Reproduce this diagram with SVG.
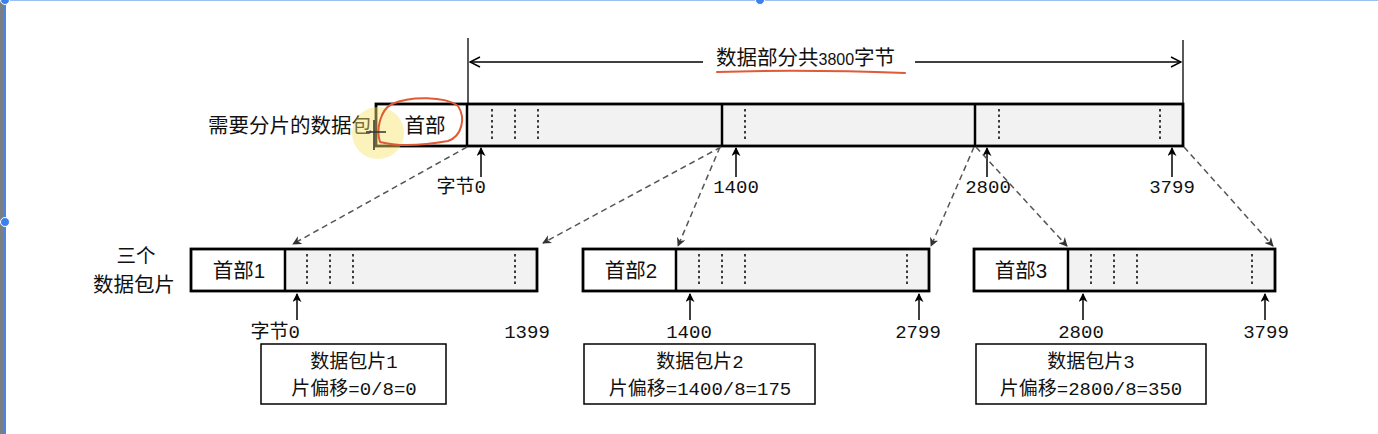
<svg xmlns="http://www.w3.org/2000/svg" width="1378" height="434" viewBox="0 0 1378 434">
<style>
.cjk{font-family:"Noto Sans CJK SC","Noto Sans",sans-serif;font-size:20.5px;fill:#111}
.mono{font-family:"Liberation Mono","Noto Sans CJK SC",monospace;font-size:19px;fill:#111}
.box{fill:#fff;stroke:#000;stroke-width:2.8}
.data{fill:#f2f2f2;stroke:none}
.div{stroke:#000;stroke-width:2.5}
.dot{stroke:#000;stroke-width:1.5;stroke-dasharray:2.5 3}
.info{fill:#fff;stroke:#000;stroke-width:1.5}
.up{stroke:#000;stroke-width:1.5;fill:none;marker-end:url(#ah)}
.dash{stroke:#555;stroke-width:1.5;stroke-dasharray:6 4;fill:none;marker-end:url(#dh)}
.dim{stroke:#000;stroke-width:1.3;fill:none}
.red{stroke:#e05a35;stroke-width:2;fill:none;stroke-linecap:round}
</style>
<defs>
<marker id="ah" viewBox="0 0 10 10" refX="9" refY="5" markerWidth="9" markerHeight="9" markerUnits="userSpaceOnUse" orient="auto">
<path d="M0,0 L10,5 L0,10 L3,5 z" fill="#000"/>
</marker>
<marker id="dh" viewBox="0 0 10 10" refX="9" refY="5" markerWidth="9" markerHeight="9" markerUnits="userSpaceOnUse" orient="auto">
<path d="M0,0 L10,5 L0,10 L3,5 z" fill="#333"/>
</marker>
<marker id="open" viewBox="0 0 12 12" refX="11" refY="6" markerWidth="12" markerHeight="12" markerUnits="userSpaceOnUse" orient="auto">
<path d="M1,1 L11,6 L1,11" fill="none" stroke="#000" stroke-width="1.5"/>
</marker>
</defs>
<rect width="1378" height="434" fill="#fff"/>
<!-- window frame -->
<rect x="0" y="0" width="3" height="434" fill="#7a7f86"/>
<rect x="3" y="0" width="3" height="434" fill="#4a86e0"/>
<line x1="6" y1="0.5" x2="1378" y2="0.5" stroke="#9cc0ef" stroke-width="1.2"/>
<circle cx="5" cy="0" r="4.5" fill="#3b82f0" stroke="#fff" stroke-width="1"/>
<circle cx="5" cy="222" r="4.5" fill="#3b82f0" stroke="#fff" stroke-width="1"/>
<circle cx="760" cy="0" r="4.5" fill="#3b82f0" stroke="#fff" stroke-width="1"/>

<!-- dimension -->
<g id="dimension">
<line class="dim" x1="468" y1="38" x2="468" y2="104"/>
<line class="dim" x1="1183" y1="40" x2="1183" y2="104"/>
<line class="dim" x1="703" y1="62" x2="470" y2="62" marker-end="url(#open)"/>
<line class="dim" x1="915" y1="62" x2="1181" y2="62" marker-end="url(#open)"/>
<text class="cjk" x="716" y="65">数据部分共<tspan style="font-family:'Liberation Sans',sans-serif;font-size:16px">3800</tspan>字节</text>
</g>

<!-- original packet -->
<g id="packet">
<text class="cjk" x="372" y="133" text-anchor="end">需要分片的数据包</text>
<rect class="data" x="467" y="104" width="716" height="42"/>
<rect x="376" y="104" width="807" height="42" fill="none" stroke="#000" stroke-width="2.8"/>
<line class="div" x1="467" y1="104" x2="467" y2="146"/>
<line class="div" x1="722" y1="104" x2="722" y2="146"/>
<line class="div" x1="975" y1="104" x2="975" y2="146"/>
<line class="dot" x1="492" y1="109" x2="492" y2="142"/>
<line class="dot" x1="515" y1="109" x2="515" y2="142"/>
<line class="dot" x1="538" y1="109" x2="538" y2="142"/>
<line class="dot" x1="745" y1="109" x2="745" y2="142"/>
<line class="dot" x1="999" y1="109" x2="999" y2="142"/>
<line class="dot" x1="1160" y1="109" x2="1160" y2="142"/>
<text class="cjk" x="425" y="133" text-anchor="middle">首部</text>
<line class="up" x1="481" y1="177" x2="481" y2="148"/>
<line class="up" x1="736" y1="177" x2="736" y2="148"/>
<line class="up" x1="987" y1="177" x2="987" y2="148"/>
<line class="up" x1="1172" y1="177" x2="1172" y2="148"/>
<text class="mono" x="486" y="193" text-anchor="end">字节0</text>
<text class="mono" x="736" y="193" text-anchor="middle">1400</text>
<text class="mono" x="988" y="193" text-anchor="middle">2800</text>
<text class="mono" x="1172" y="193" text-anchor="middle">3799</text>
</g>

<!-- annotations -->
<g id="annotations">
<circle cx="378" cy="133" r="26" fill="#f7e36a" opacity="0.45"/>
<path class="red" d="M717,72 C780,70 850,71 905,73"/>
<path class="red" d="M392,104 C410,96 445,96 458,106 C466,118 462,136 448,141 C420,146 395,146 380,142 C376,130 380,110 392,104 Z"/>
<path d="M374,120 V150 M366,132 H386" stroke="#333" stroke-width="1.5"/>
</g>

<!-- fragment labels -->
<g id="fraglabel">
<text class="cjk" x="136" y="263" text-anchor="middle" style="font-size:19.5px">三个</text>
<text class="cjk" x="134" y="292" text-anchor="middle">数据包片</text>
</g>

<!-- fragment 1 -->
<g id="frag1">
<rect class="data" x="285" y="249" width="252" height="42"/>
<rect x="191" y="249" width="346" height="42" fill="none" stroke="#000" stroke-width="2.8"/>
<line class="div" x1="285" y1="249" x2="285" y2="291"/>
<line class="dot" x1="307" y1="254" x2="307" y2="287"/>
<line class="dot" x1="330" y1="254" x2="330" y2="287"/>
<line class="dot" x1="353" y1="254" x2="353" y2="287"/>
<line class="dot" x1="515" y1="254" x2="515" y2="287"/>
<text class="cjk" x="239" y="278" text-anchor="middle">首部<tspan style="font-family:'Liberation Sans',sans-serif">1</tspan></text>
<line class="up" x1="297" y1="320" x2="297" y2="294"/>
<text class="mono" x="300" y="338" text-anchor="end">字节0</text>
<text class="mono" x="527" y="338" text-anchor="middle">1399</text>
<rect class="info" x="261" y="344" width="185" height="60"/>
<text class="mono" x="354" y="368" text-anchor="middle">数据包片1</text>
<text class="mono" x="354" y="395" text-anchor="middle">片偏移=0/8=0</text>
</g>

<!-- fragment 2 -->
<g id="frag2">
<rect class="data" x="676" y="249" width="253" height="42"/>
<rect x="583" y="249" width="346" height="42" fill="none" stroke="#000" stroke-width="2.8"/>
<line class="div" x1="676" y1="249" x2="676" y2="291"/>
<line class="dot" x1="699" y1="254" x2="699" y2="287"/>
<line class="dot" x1="722" y1="254" x2="722" y2="287"/>
<line class="dot" x1="745" y1="254" x2="745" y2="287"/>
<line class="dot" x1="907" y1="254" x2="907" y2="287"/>
<text class="cjk" x="631" y="278" text-anchor="middle">首部<tspan style="font-family:'Liberation Sans',sans-serif">2</tspan></text>
<line class="up" x1="690" y1="320" x2="690" y2="294"/>
<line class="up" x1="919" y1="320" x2="919" y2="294"/>
<text class="mono" x="689" y="338" text-anchor="middle">1400</text>
<text class="mono" x="918" y="338" text-anchor="middle">2799</text>
<rect class="info" x="584" y="344" width="231" height="60"/>
<text class="mono" x="700" y="368" text-anchor="middle">数据包片2</text>
<text class="mono" x="700" y="395" text-anchor="middle">片偏移=1400/8=175</text>
</g>

<!-- fragment 3 -->
<g id="frag3">
<rect class="data" x="1068" y="249" width="207" height="42"/>
<rect x="974" y="249" width="301" height="42" fill="none" stroke="#000" stroke-width="2.8"/>
<line class="div" x1="1068" y1="249" x2="1068" y2="291"/>
<line class="dot" x1="1091" y1="254" x2="1091" y2="287"/>
<line class="dot" x1="1114" y1="254" x2="1114" y2="287"/>
<line class="dot" x1="1137" y1="254" x2="1137" y2="287"/>
<line class="dot" x1="1252" y1="254" x2="1252" y2="287"/>
<text class="cjk" x="1021" y="278" text-anchor="middle">首部<tspan style="font-family:'Liberation Sans',sans-serif">3</tspan></text>
<line class="up" x1="1083" y1="320" x2="1083" y2="294"/>
<line class="up" x1="1265" y1="320" x2="1265" y2="294"/>
<text class="mono" x="1081" y="338" text-anchor="middle">2800</text>
<text class="mono" x="1266" y="338" text-anchor="middle">3799</text>
<rect class="info" x="976" y="344" width="230" height="60"/>
<text class="mono" x="1091" y="368" text-anchor="middle">数据包片3</text>
<text class="mono" x="1091" y="395" text-anchor="middle">片偏移=2800/8=350</text>
</g>

<!-- connectors -->
<g id="connectors">
<line class="dash" x1="467" y1="147" x2="293" y2="244"/>
<line class="dash" x1="721" y1="147" x2="543" y2="243"/>
<line class="dash" x1="720" y1="147" x2="678" y2="246"/>
<line class="dash" x1="974" y1="147" x2="931" y2="246"/>
<line class="dash" x1="976" y1="147" x2="1067" y2="246"/>
<line class="dash" x1="1184" y1="147" x2="1273" y2="246"/>
</g>
</svg>
